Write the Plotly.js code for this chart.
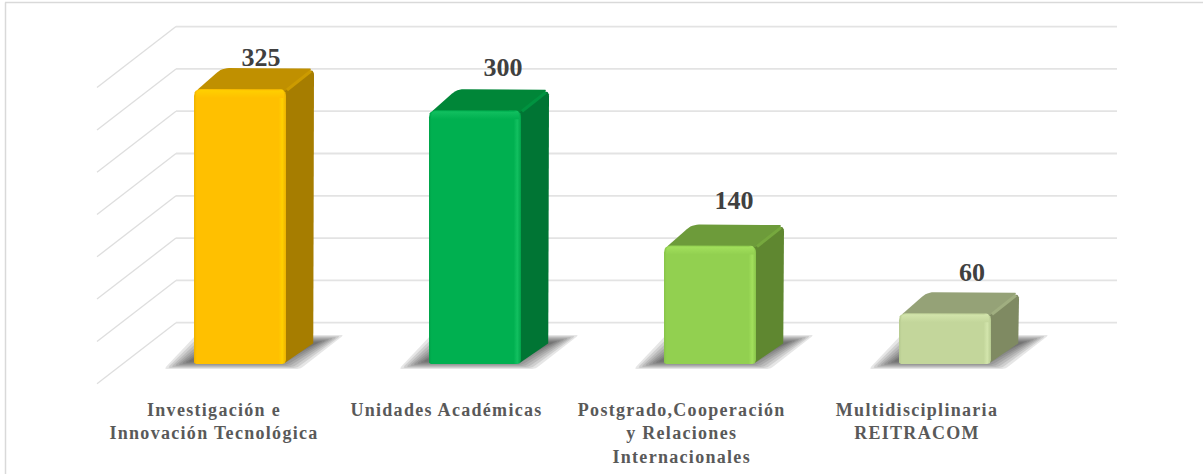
<!DOCTYPE html>
<html>
<head>
<meta charset="utf-8">
<script src="https://cdn.plot.ly/plotly-3.0.1.min.js"></script>
<style>
html,body{margin:0;padding:0;background:#fff;}
#chart{width:1203px;height:474px;}
.xtick text{letter-spacing:1.3px;}
</style>
</head>
<body>
<div id="chart"></div>
<script>
const tickLabels = ["Investigación e<br>Innovación Tecnológica","Unidades Académicas","Postgrado,Cooperación<br>y Relaciones<br>Internacionales","Multidisciplinaria<br>REITRACOM"];
const values = [325,300,140,60];
const gridLevels = [0,50,100,150,200,250,300,350];
const frontColors = ["#FFC000","#00B050","#92D050","#C3D69B"];
const brightColors = ["#FFD000","#12C060","#A2E05C","#D3E5AC"];
const edgeColors = ["#EDB200","#00A349","#88C44A","#B6CA90"];
const topColors = ["#C09000","#008638","#6D9B3A","#95A277"];
const sideColors = ["#A67D00","#007534","#5F8730","#7F8A62"];
const ridgeColors = ["#CC9B00","#009340","#76A83E","#A0AE80"];
const labelNudgeX = [21,28,24,27];
const labelNudgeY = [26,37,39,35];
const tickNudge = [-26,-28.5,-28.3,-28];

const PX_CAT = 235, PX_VAL = 0.846;
const HALF = 46, DX = 28, DY = 21;
const WALL_DX = 79, WALL_DY = 61, WALL_BACK_DY = 41.3, WALL_BACK_X = -64, GRID_END = 877;

function rounded(verts){
  const xs=[], ys=[], n=verts.length;
  verts.forEach((v,k)=>{
    const p=verts[(k+n-1)%n], q=verts[(k+1)%n], r=v[2]||0;
    const u=(a)=>{const d=Math.hypot(a[0]-v[0],a[1]-v[1])||1;return [(a[0]-v[0])/d,(a[1]-v[1])/d];};
    const a=u(p), b=u(q);
    const s=[v[0]+a[0]*r,v[1]+a[1]*r], e=[v[0]+b[0]*r,v[1]+b[1]*r];
    for(let t=0;t<=6;t++){
      const w=t/6;
      xs.push(((1-w)*(1-w)*s[0]+2*w*(1-w)*v[0]+w*w*e[0])/PX_CAT);
      ys.push(((1-w)*(1-w)*s[1]+2*w*(1-w)*v[1]+w*w*e[1])/PX_VAL);
    }
  });
  xs.push(xs[0]); ys.push(ys[0]);
  return {x:xs,y:ys};
}
function face(verts,extra){
  return Object.assign({type:"scatter",mode:"lines",fill:"toself",line:{width:0},hoverinfo:"skip",showlegend:false},rounded(verts),extra);
}
const data=[];

// wall and back gridlines
const gx=[],gy=[];
gridLevels.forEach(v=>{
  gx.push((WALL_BACK_X-WALL_DX)/PX_CAT,WALL_BACK_X/PX_CAT,null);
  gy.push(v+(WALL_BACK_DY-WALL_DY)/PX_VAL,v+WALL_BACK_DY/PX_VAL,null);
});
data.push({type:"scatter",mode:"lines",x:gx,y:gy,line:{color:"#dedede",width:1.3},hoverinfo:"skip",showlegend:false});
const bx=[],by=[];
gridLevels.forEach(v=>{
  bx.push(WALL_BACK_X/PX_CAT,GRID_END/PX_CAT,null);
  by.push(v+WALL_BACK_DY/PX_VAL,v+WALL_BACK_DY/PX_VAL,null);
});
data.push({type:"scatter",mode:"lines",x:bx,y:by,line:{color:"#e3e3e3",width:1.8},hoverinfo:"skip",showlegend:false});

values.forEach((val,i)=>{
  const X=i*PX_CAT, T=val*PX_VAL, B=0, L=X-HALF, R=X+HALF;
  // soft floor shadow built from stacked layers
  for(let k=0;k<8;k++){
    const g=k*3.4;
    data.push(face([
      [L-30+g,B-5+g*0.3,3],[R+14-g,B-5+g*0.3,3],
      [R+DX+30-g,B+DY+8-g*0.3,3],[L+2+g,B+DY+8-g*0.3,3]
    ],{fillcolor:"rgba(30,30,30,0.11)"}));
  }
  // side face
  data.push(face([[R-3,B,2],[R-3,T,2],[R+DX,T+DY,7],[R+DX,B+DY,2]],{fillcolor:sideColors[i]}));
  // top face
  data.push(face([[L+2,T-2,3],[L+DX,T+DY,7],[R+DX,T+DY,7],[R,T-2,3]],{fillcolor:topColors[i]}));
  // ridge between top and side
  data.push({type:"scatter",mode:"lines",hoverinfo:"skip",showlegend:false,
    x:[(R+1)/PX_CAT,(R+DX-3)/PX_CAT],y:[(T-1)/PX_VAL,(T+DY-3)/PX_VAL],
    line:{color:ridgeColors[i],width:3}});
  // front face
  data.push(face([[L,B,2],[L,T,7],[R,T,7],[R,B,4]],{
    fillcolor:frontColors[i],
    fillgradient:{type:"horizontal",colorscale:[
      [0,edgeColors[i]],[0.03,frontColors[i]],[0.92,frontColors[i]],[0.96,brightColors[i]],[1,edgeColors[i]]
    ]}
  }));
  // bright lip along the top of the front face
  data.push(face([[L+2,T-9,0],[L+2,T-1,5],[R-2,T-1,5],[R-2,T-9,0]],{
    fillcolor:brightColors[i],
    fillgradient:{type:"vertical",colorscale:[[0,frontColors[i]],[1,brightColors[i]]]}
  }));
});

// value labels
data.push({type:"scatter",mode:"text",
  x:values.map((v,i)=>i+labelNudgeX[i]/PX_CAT),
  y:values.map((v,i)=>v+(DY+labelNudgeY[i]-17)/PX_VAL),
  text:values.map(String),textposition:"middle center",
  textfont:{family:"'Liberation Serif',serif",size:26,color:"#404040",weight:700},
  hoverinfo:"skip",showlegend:false});

const PLOT_H=390;
const layout={
  width:1203,height:474,paper_bgcolor:"#fff",plot_bgcolor:"rgba(0,0,0,0)",
  margin:{l:0,r:0,t:0,b:474-PLOT_H,pad:0},showlegend:false,
  xaxis:{range:[-240/PX_CAT,(1203-240)/PX_CAT],tickmode:"array",
    tickvals:values.map((v,i)=>i+tickNudge[i]/PX_CAT),ticktext:tickLabels,
    showgrid:false,zeroline:false,showline:false,ticks:"",ticklen:0,tickangle:0,automargin:false,
    ticklabelstandoff:7,
    tickfont:{family:"'Liberation Serif',serif",size:18,color:"#595959",weight:700}},
  yaxis:{range:[(PLOT_H-364)/-PX_VAL,364/PX_VAL],visible:false,showgrid:false,zeroline:false},
  shapes:[
    {type:"line",xref:"paper",yref:"paper",x0:5/1203,x1:1,y0:1-2.5/PLOT_H,y1:1-2.5/PLOT_H,line:{color:"#d9d9d9",width:1.5}},
    {type:"line",xref:"paper",yref:"paper",x0:5.5/1203,x1:5.5/1203,y0:1-2.5/PLOT_H,y1:-(474-PLOT_H)/PLOT_H,line:{color:"#d9d9d9",width:1.5}}
  ]
};
Plotly.newPlot("chart",data,layout,{displayModeBar:false,staticPlot:true});
</script>
</body>
</html>
